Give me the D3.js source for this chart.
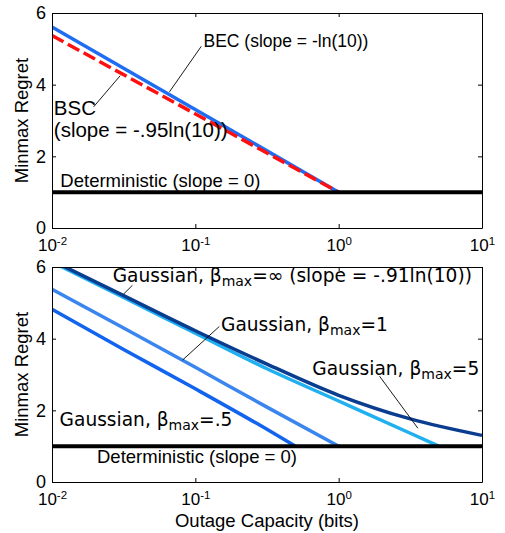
<!DOCTYPE html>
<html>
<head>
<meta charset="utf-8">
<script src="https://cdn.jsdelivr.net/npm/d3@7"></script>
<style>
	body { margin: 0; background: #fff; }
	text { font-family: "Liberation Sans", Arial, sans-serif; fill: #000; }
	.gauss { font-family: "DejaVu Sans", sans-serif; }
</style>
</head>
<body>
<div id="chart"></div>
<script>
// tick values
const capTicks = [0.01, 0.1, 1, 10];
const regretTicks = [0, 2, 4, 6];

// top panel: BEC / BSC / deterministic
const becCap = [0.01, 1];
const becRegret = [5.61, 1];
const bscCap = [0.01, 1];
const bscRegret = [5.37, 1];
const detCap = [0.01, 10];
const detRegret = [1, 1];

// bottom panel: gaussian curves
const gInfCap = [0.01, 0.0316, 0.1, 0.316, 1, 3.16, 10];
const gInfRegret = [6.18, 5.2, 4.22, 3.29, 2.42, 1.76, 1.3];
const g5Cap = [0.01, 0.0316, 0.1, 0.316, 1, 3.16, 5];
const g5Regret = [6.14, 5.15, 4.15, 3.16, 2.26, 1.36, 1.0];
const g1Cap = [0.01, 0.0316, 0.1, 0.316, 1];
const g1Regret = [5.38, 4.3, 3.2, 2.09, 1.0];
const gHalfCap = [0.01, 0.0316, 0.1, 0.316, 0.5];
const gHalfRegret = [4.82, 3.7, 2.6, 1.47, 1.0];

const width = 505;
const height = 533;
const left = 52, right = 482;

const svg = d3.select('#chart').append('svg')
	.attr('width', width)
	.attr('height', height);

const x = d3.scaleLog().domain([0.01, 10]).range([left, right]);

const zip = (xs, ys) => xs.map((v, i) => [v, ys[i]]);

const make_panel = (id, top, bottom) => {
	const y = d3.scaleLinear().domain([0, 6]).range([bottom, top]);
	const g = svg.append('g');

	g.append('clipPath').attr('id', 'clip' + id)
		.append('rect')
		.attr('x', left).attr('y', top)
		.attr('width', right - left).attr('height', bottom - top);

	const lines = g.append('g').attr('clip-path', `url(#clip${id})`);
	const line = d3.line()
		.x(d => x(d[0]))
		.y(d => y(d[1]))
		.curve(d3.curveMonotoneX);

	// axes, ticks pointing inward
	const fmt = d => '';
	g.append('g').attr('transform', `translate(0,${bottom})`)
		.call(d3.axisBottom(x).tickValues(capTicks).tickSizeInner(-4).tickSizeOuter(0))
		.call(a => a.selectAll('.tick text').each(function(d) {
			const t = d3.select(this).text(null)
				.attr('y', 23).attr('dy', 0)
				.attr('font-size', 17).attr('font-family', '"Liberation Sans", Arial, sans-serif');
			t.append('tspan').text('10');
			t.append('tspan').attr('dy', -6.5).attr('font-size', 11.5)
				.text(String(Math.round(Math.log10(d))));
		}));
	g.append('g').attr('transform', `translate(0,${top})`)
		.call(d3.axisTop(x).tickValues(capTicks).tickSizeInner(-4).tickSizeOuter(0).tickFormat(fmt));
	g.append('g').attr('transform', `translate(${left},0)`)
		.call(d3.axisLeft(y).tickValues(regretTicks).tickSizeInner(-4).tickSizeOuter(0).tickPadding(6)
			.tickFormat(d3.format('d')))
		.call(a => a.selectAll('.tick text')
			.attr('font-size', 18).attr('font-family', '"Liberation Sans", Arial, sans-serif'));
	g.append('g').attr('transform', `translate(${right},0)`)
		.call(d3.axisRight(y).tickValues(regretTicks).tickSizeInner(-4).tickSizeOuter(0).tickFormat(fmt));

	g.selectAll('.domain, .tick line').attr('stroke', '#000');

	g.append('text')
		.attr('transform', `translate(27.5,${(top + bottom) / 2}) rotate(-90)`)
		.attr('text-anchor', 'middle')
		.attr('font-size', 18.5)
		.text('Minmax Regret');

	return { g, y, lines, line };
};

// ---- top panel
const p1 = make_panel(1, 13, 228);

p1.lines.append('path')
	.attr('d', p1.line(zip(becCap, becRegret)))
	.attr('fill', 'none').attr('stroke', '#1f6df2').attr('stroke-width', 3.5);
p1.lines.append('path')
	.attr('d', p1.line(zip(bscCap, bscRegret)))
	.attr('fill', 'none').attr('stroke', '#ff1010').attr('stroke-width', 3.5)
	.attr('stroke-dasharray', '13,5');
p1.lines.append('path')
	.attr('d', p1.line(zip(detCap, detRegret)))
	.attr('fill', 'none').attr('stroke', '#000').attr('stroke-width', 4);

const leader = (p, x1, y1, x2, y2) => p.g.append('line')
	.attr('x1', x(x1)).attr('y1', p.y(y1))
	.attr('x2', x(x2)).attr('y2', p.y(y2))
	.attr('stroke', '#000').attr('stroke-width', 0.9);

p1.g.append('text')
	.attr('x', x(0.114)).attr('y', p1.y(5.06))
	.attr('font-size', 17.5)
	.text('BEC (slope = -ln(10))');
leader(p1, 0.11, 5.07, 0.066, 3.8);

const bsc = p1.g.append('text')
	.attr('x', x(0.0103)).attr('y', p1.y(3.16))
	.attr('font-size', 20.5);
bsc.append('tspan').text('BSC');
bsc.append('tspan').attr('x', x(0.0103)).attr('dy', 22).text('(slope = -.95ln(10))');
leader(p1, 0.0195, 3.38, 0.0299, 4.25);

p1.g.append('text')
	.attr('x', x(0.01144)).attr('y', p1.y(1.14))
	.attr('font-size', 18.5)
	.text('Deterministic (slope = 0)');

// ---- bottom panel
const p2 = make_panel(2, 267, 482);

const curves = [
	{ cap: gHalfCap, regret: gHalfRegret, color: '#1264ee' },
	{ cap: g1Cap, regret: g1Regret, color: '#3a86ee' },
	{ cap: g5Cap, regret: g5Regret, color: '#20b0f0' },
	{ cap: gInfCap, regret: gInfRegret, color: '#0a3c90' },
];
curves.forEach(c => {
	p2.lines.append('path')
		.attr('d', p2.line(zip(c.cap, c.regret)))
		.attr('fill', 'none').attr('stroke', c.color).attr('stroke-width', 3.5);
});
p2.lines.append('path')
	.attr('d', p2.line(zip(detCap, detRegret)))
	.attr('fill', 'none').attr('stroke', '#000').attr('stroke-width', 4);

const gauss_label = (cx, cy, rest) => {
	const t = p2.g.append('text').attr('class', 'gauss')
		.attr('x', x(cx)).attr('y', p2.y(cy))
		.attr('font-size', 18.6);
	t.append('tspan').text('Gaussian, β');
	t.append('tspan').attr('dy', 4).attr('font-size', 14).text('max');
	t.append('tspan').attr('dy', -4).text(rest);
};

gauss_label(0.0265, 5.58, '=∞ (slope = -.91ln(10))');
leader(p2, 0.0364, 5.49, 0.0315, 5.24);
gauss_label(0.151, 4.22, '=1');
leader(p2, 0.147, 4.34, 0.0813, 3.4);
gauss_label(0.655, 2.99, '=5');
leader(p2, 1.93, 2.95, 3.57, 1.5);
gauss_label(0.0113, 1.57, '=.5');

p2.g.append('text')
	.attr('x', x(0.0206)).attr('y', p2.y(0.53))
	.attr('font-size', 18.5)
	.text('Deterministic (slope = 0)');

svg.append('text')
	.attr('x', (left + right) / 2).attr('y', 527)
	.attr('text-anchor', 'middle')
	.attr('font-size', 18.5)
	.text('Outage Capacity (bits)');
</script>
</body>
</html>
